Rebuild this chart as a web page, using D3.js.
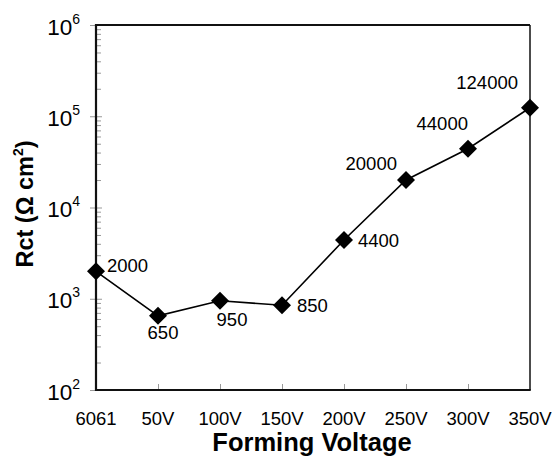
<!DOCTYPE html>
<html>
<head>
<meta charset="utf-8">
<script src="https://cdn.jsdelivr.net/npm/d3@7"></script>
<style>
  body { margin: 0; background: #fff; }
  text { font-family: "Liberation Sans", Arial, sans-serif; fill: #000; }
</style>
</head>
<body>
<div id="chart-area"></div>
<script>
// data
const categories = ["6061", "50V", "100V", "150V", "200V", "250V", "300V", "350V"]
const rctValues = [2000, 650, 950, 850, 4400, 20000, 44000, 124000]
const pointLabels = ["2000", "650", "950", "850", "4400", "20000", "44000", "124000"]
const yTickExponents = [2, 3, 4, 5, 6]

// label offsets per point: [dx, dy, anchor]
const labelPos = [
  [11, 1, "start"], [5, 23, "middle"], [12, 25, "middle"], [15, 7, "start"],
  [14, 7, "start"], [-9, -10, "end"], [0, -19, "end"], [-12, -19, "end"]
]

const WIDTH = 554, HEIGHT = 459
const LEFT = 96, RIGHT = 530, TOP = 25, BOTTOM = 390

const svg = d3.select("#chart-area").append("svg")
  .attr("width", WIDTH)
  .attr("height", HEIGHT)

const x = d3.scalePoint().domain(categories).range([LEFT, RIGHT]).padding(0)
const y = d3.scaleLog().domain([1e2, 1e6]).range([BOTTOM, TOP])

// minor ticks (inside)
const minorVals = []
for (let e = 2; e < 6; e++) {
  for (let m = 2; m <= 9; m++) minorVals.push(m * Math.pow(10, e))
}
const minorAxis = svg.append("g")
  .attr("transform", `translate(${LEFT},0)`)
  .call(d3.axisLeft(y).tickValues(minorVals).tickSize(-5).tickFormat(""))
minorAxis.select(".domain").remove()
minorAxis.selectAll("line").attr("stroke", "#999")

// major ticks, crossing the axis
const majorVals = yTickExponents.map(e => Math.pow(10, e))
const majorAxis = svg.append("g")
  .attr("transform", `translate(${LEFT},0)`)
  .call(d3.axisLeft(y).tickValues(majorVals).tickSize(6).tickFormat(""))
majorAxis.select(".domain").remove()
majorAxis.selectAll("line").attr("stroke", "#999").attr("x2", -6)
majorAxis.selectAll(".tick").append("line")
  .attr("x1", 0).attr("x2", 6).attr("stroke", "#999")

// y tick labels with superscripts
yTickExponents.forEach(e => {
  const t = svg.append("text")
    .attr("x", 80)
    .attr("y", y(Math.pow(10, e)) + 9.5)
    .attr("text-anchor", "end")
  t.append("tspan").attr("font-size", "22.5px").text("10")
  t.append("tspan").attr("font-size", "14px").attr("dy", -11).text(e)
})

// x ticks (inside)
const xAxis = svg.append("g")
  .attr("transform", `translate(0,${BOTTOM})`)
  .call(d3.axisBottom(x).tickValues(categories.slice(1, -1)).tickSize(-6).tickFormat(""))
xAxis.select(".domain").remove()
xAxis.selectAll("line").attr("stroke", "#999")

svg.selectAll(".xlabel")
  .data(categories)
  .enter().append("text")
  .attr("class", "xlabel")
  .attr("x", d => x(d))
  .attr("y", 425)
  .attr("text-anchor", "middle")
  .attr("font-size", "18.5px")
  .text(d => d)

// frame
svg.append("line").attr("x1", LEFT).attr("x2", RIGHT).attr("y1", TOP).attr("y2", TOP)
  .attr("stroke", "#111").attr("stroke-width", 2)
svg.append("line").attr("x1", RIGHT).attr("x2", RIGHT).attr("y1", TOP).attr("y2", BOTTOM)
  .attr("stroke", "#111").attr("stroke-width", 1.5)
svg.append("line").attr("x1", LEFT).attr("x2", RIGHT + 0.75).attr("y1", BOTTOM).attr("y2", BOTTOM)
  .attr("stroke", "#111").attr("stroke-width", 2.2)
svg.append("line").attr("x1", LEFT).attr("x2", LEFT).attr("y1", TOP - 1).attr("y2", BOTTOM + 1.1)
  .attr("stroke", "#111").attr("stroke-width", 2.2)

// data line
const points = categories.map((c, i) => ({ cat: c, v: rctValues[i], label: pointLabels[i], pos: labelPos[i] }))

const line = d3.line()
  .x(d => x(d.cat))
  .y(d => y(d.v))

svg.append("path")
  .attr("d", line(points))
  .attr("fill", "none")
  .attr("stroke", "#000")
  .attr("stroke-width", 1.6)

// diamond markers
svg.selectAll(".marker")
  .data(points)
  .enter().append("path")
  .attr("class", "marker")
  .attr("transform", d => `translate(${x(d.cat)},${y(d.v)})`)
  .attr("d", "M0,-9L9,0L0,9L-9,0Z")
  .attr("fill", "#000")

// point labels
svg.selectAll(".plabel")
  .data(points)
  .enter().append("text")
  .attr("class", "plabel")
  .attr("x", d => x(d.cat) + d.pos[0])
  .attr("y", d => y(d.v) + d.pos[1])
  .attr("text-anchor", d => d.pos[2])
  .attr("font-size", "18.5px")
  .text(d => d.label)

// axis titles
svg.append("text")
  .attr("x", 312)
  .attr("y", 451)
  .attr("text-anchor", "middle")
  .attr("font-size", "25.5px")
  .attr("font-weight", "bold")
  .text("Forming Voltage")

const yTitle = svg.append("text")
  .attr("transform", "translate(33,204) rotate(-90)")
  .attr("text-anchor", "middle")
  .attr("font-size", "23.5px")
  .attr("font-weight", "bold")
yTitle.append("tspan").text("Rct (Ω cm")
yTitle.append("tspan").attr("font-size", "14px").attr("dy", -10).text("2")
yTitle.append("tspan").attr("dy", 10).text(")")
</script>
</body>
</html>
